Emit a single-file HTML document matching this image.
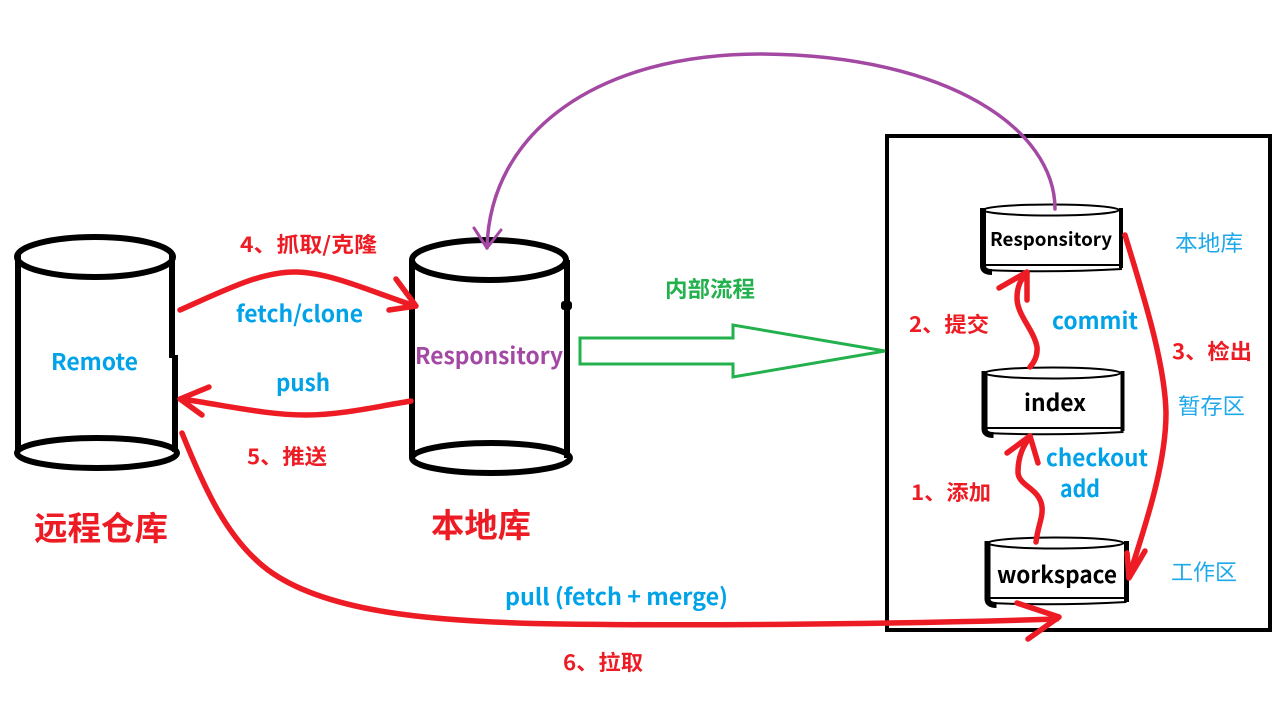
<!DOCTYPE html>
<html>
<head>
<meta charset="utf-8">
<style>
html,body{margin:0;padding:0;background:#fff;width:1288px;height:720px;overflow:hidden}
svg{display:block}
text{font-family:"Noto Sans CJK SC","Liberation Sans",sans-serif;font-weight:700}
.r{fill:#ed1c24;font-size:21px}
.b{fill:#00a2e8;font-size:23px}
.k{fill:#000;font-size:23px}
.l{fill:#1fa9ea;font-size:22px;font-weight:400}
.red{fill:none;stroke:#ed1c24;stroke-width:5.5;stroke-linecap:round;stroke-linejoin:round}
.blk{fill:none;stroke:#000;stroke-width:6}
.thin{fill:none;stroke:#000;stroke-width:2}
</style>
</head>
<body>
<svg width="1288" height="720" viewBox="0 0 1288 720" xmlns="http://www.w3.org/2000/svg">
<rect width="1288" height="720" fill="#fff"/>

<!-- inner box -->
<rect x="887" y="136" width="383" height="494" fill="none" stroke="#000" stroke-width="4"/>

<!-- remote cylinder -->
<ellipse class="blk" cx="95" cy="257" rx="78" ry="20"/>
<ellipse class="blk" cx="97" cy="453" rx="80" ry="15"/>
<path class="blk" d="M18 255V452M172 255V358M175 355V452"/>

<!-- local cylinder -->
<ellipse class="blk" cx="489" cy="260" rx="77" ry="20"/>
<ellipse class="blk" cx="491" cy="458" rx="79" ry="15"/>
<path class="blk" d="M412 260V458M567 260V458"/>
<rect x="561" y="301" width="11" height="9" rx="3" fill="#000"/>

<!-- small cylinders -->
<g>
<path d="M983 208V266Q983 272 992 272" fill="none" stroke="#000" stroke-width="6"/>
<path d="M1121 208V268" fill="none" stroke="#000" stroke-width="4"/>
<ellipse class="thin" cx="1051" cy="210" rx="68" ry="5.500"/>
<path class="thin" d="M985 265H1122M985 270Q1050 273 1122 269"/>
</g>
<g transform="translate(1.500 163)">
<path d="M983 208V266Q983 272 992 272" fill="none" stroke="#000" stroke-width="6"/>
<path d="M1121 208V268" fill="none" stroke="#000" stroke-width="4"/>
<ellipse class="thin" cx="1051" cy="210" rx="68" ry="5.500"/>
<path class="thin" d="M985 265H1122M985 270Q1050 273 1122 269"/>
</g>
<g transform="translate(4.500 333)">
<path d="M983 208V266Q983 272 992 272" fill="none" stroke="#000" stroke-width="6"/>
<path d="M1122 208V269" fill="none" stroke="#000" stroke-width="5"/>
<ellipse class="thin" cx="1051" cy="210" rx="68" ry="5.500"/>
<path class="thin" d="M985 265H1122M985 270Q1050 273 1122 269"/>
</g>

<!-- green arrow -->
<polygon points="580,338 733,338 733,325 885,351 733,377 733,364 580,364" fill="#fff" stroke="#22b14c" stroke-width="3"/>

<!-- purple curve -->
<path d="M1055 209C1055 130 950 55 760 54C600 54 490 130 487 248" fill="none" stroke="#a349a4" stroke-width="3.500" stroke-linecap="round"/>
<path d="M474 228L487 248L501 230" fill="none" stroke="#a349a4" stroke-width="3" stroke-linecap="round" stroke-linejoin="round"/>

<!-- red arrows -->
<path class="red" d="M180 310C225 290 262 271 297 272C332 273 372 292 415 306"/>
<path class="red" d="M396 279L416 306L389 310"/>
<path class="red" d="M411 401C375 407 340 415 306 415C265 415 225 405 181 399"/>
<path class="red" d="M209 387L180 399L202 415"/>
<path class="red" d="M182 433C205 490 228 540 268 570C325 612 430 622 560 624C700 626 900 624 1057 619"/>
<path class="red" d="M1017 603L1059 617L1028 639"/>
<path class="red" d="M1030 367Q1038 358 1037 347C1034 330 1017 315 1017 298C1017 285 1022 278 1027 273"/>
<path class="red" d="M999 288L1027 272L1027 300"/>
<path class="red" d="M1036 542C1038 525 1043 518 1042 507C1040 488 1018 486 1018 472C1018 455 1024 445 1030 437"/>
<path class="red" d="M1007 453L1030 436L1038 463"/>
<path class="red" d="M1125 235C1140 285 1165 360 1166 413C1166 470 1140 540 1129 577"/>
<path class="red" d="M1127 553L1129 578L1145 551"/>

<!-- labels -->
<text class="r" x="240" y="252" textLength="137" lengthAdjust="spacingAndGlyphs">4、抓取/克隆</text>
<text class="b" x="236" y="322" textLength="127" lengthAdjust="spacingAndGlyphs">fetch/clone</text>
<text class="b" x="51" y="370" textLength="87" lengthAdjust="spacingAndGlyphs">Remote</text>
<text x="415" y="364" textLength="148" lengthAdjust="spacingAndGlyphs" style="fill:#a349a4;font-size:23px">Responsitory</text>
<text class="b" x="276" y="391" textLength="54" lengthAdjust="spacingAndGlyphs">push</text>
<text class="r" x="247" y="464" textLength="80" lengthAdjust="spacingAndGlyphs">5、推送</text>
<text x="34" y="540" textLength="134" lengthAdjust="spacingAndGlyphs" style="fill:#ed1c24;font-size:33px">远程仓库</text>
<text x="431" y="537" textLength="100" lengthAdjust="spacingAndGlyphs" style="fill:#ed1c24;font-size:33px">本地库</text>
<text x="665" y="297" textLength="90" lengthAdjust="spacingAndGlyphs" style="fill:#22b14c;font-size:22px">内部流程</text>
<text x="990" y="246" textLength="122" lengthAdjust="spacingAndGlyphs" style="fill:#000;font-size:19px">Responsitory</text>
<text class="k" x="1024" y="411" textLength="62" lengthAdjust="spacingAndGlyphs">index</text>
<text class="k" x="997" y="583" textLength="120" lengthAdjust="spacingAndGlyphs">workspace</text>
<text class="b" x="1052" y="329" textLength="86" lengthAdjust="spacingAndGlyphs">commit</text>
<text class="b" x="1046" y="466" textLength="102" lengthAdjust="spacingAndGlyphs">checkout</text>
<text class="b" x="1060" y="497" textLength="40" lengthAdjust="spacingAndGlyphs">add</text>
<text class="r" x="909" y="332" textLength="80" lengthAdjust="spacingAndGlyphs">2、提交</text>
<text class="r" x="911" y="500" textLength="80" lengthAdjust="spacingAndGlyphs">1、添加</text>
<text class="r" x="1172" y="359" textLength="80" lengthAdjust="spacingAndGlyphs">3、检出</text>
<text class="l" x="1175" y="251" textLength="68" lengthAdjust="spacingAndGlyphs">本地库</text>
<text class="l" x="1178" y="414" textLength="67" lengthAdjust="spacingAndGlyphs">暂存区</text>
<text class="l" x="1171" y="580" textLength="66" lengthAdjust="spacingAndGlyphs">工作区</text>
<text class="b" x="505" y="605" textLength="223" lengthAdjust="spacingAndGlyphs">pull (fetch + merge)</text>
<text class="r" x="563" y="670" textLength="80" lengthAdjust="spacingAndGlyphs">6、拉取</text>
</svg>
</body>
</html>
